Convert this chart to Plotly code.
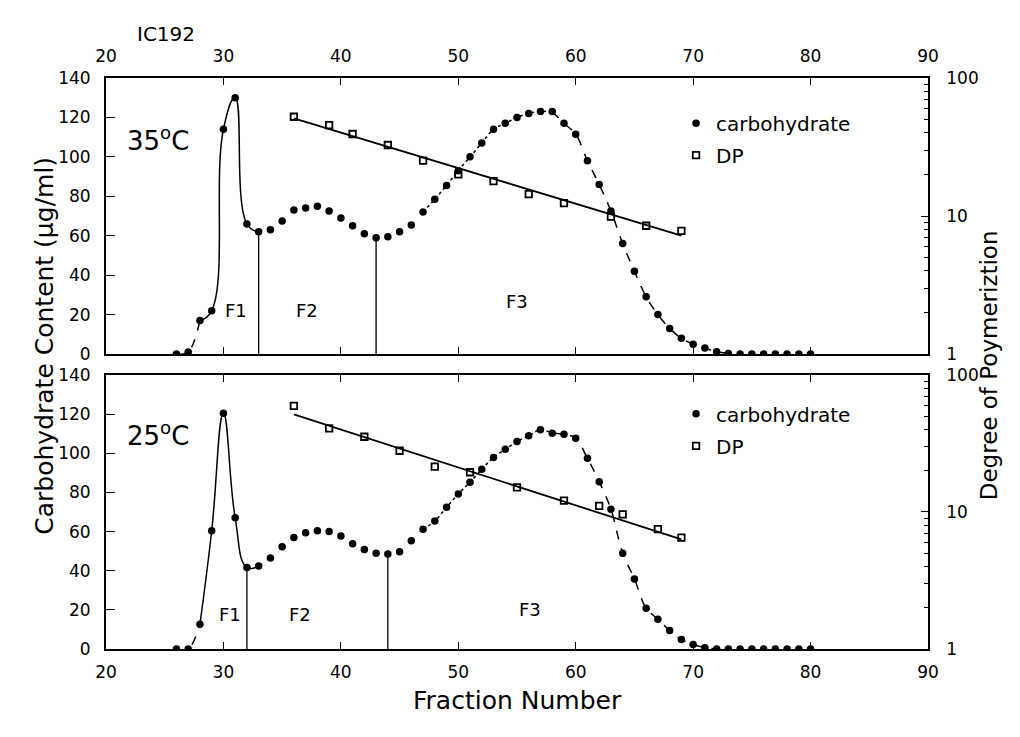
import plotly.graph_objects as go

# ---------------- data ----------------
fraction = list(range(26, 81))

carb_35 = [0, 1, 17, 22, 114, 130, 66, 62, 63, 67.5, 73, 74, 75, 72.5, 69, 65, 61, 59,
           59.5, 62, 65.5, 72, 78.5, 85.5, 93, 100, 107, 114, 117, 120, 122, 123, 123,
           117, 111.5, 98, 86, 72.5, 56, 42, 29, 20, 13, 8, 5, 3, 1.2, 0.3,
           0, 0, 0, 0, 0, 0, 0]
carb_25 = [0, 0, 12.6, 60.4, 120.4, 67, 41.7, 42.4, 46.5, 52.3, 57, 59.4, 60.4, 60, 57.7,
           53.8, 50.8, 48.9, 48.5, 49.7, 55.3, 61.2, 65.4, 72.4, 79.2, 85.2, 91.8, 97.9,
           102, 106, 109, 112, 110.2, 109.7, 107.7, 97.4, 85.5, 71.4, 48.9, 35.8, 20.8,
           15.2, 9.4, 4.9, 2.3, 0.7, 0, 0, 0, 0, 0, 0, 0, 0, 0]

dp_x_35 = [36, 39, 41, 44, 47, 50, 53, 56, 59, 63, 66, 69]
dp_y_35 = [52.4, 45.6, 39.3, 32.7, 25.2, 20, 17.9, 14.4, 12.4, 9.9, 8.5, 7.8]
dp_x_25 = [36, 39, 42, 45, 48, 51, 55, 59, 62, 64, 67, 69]
dp_y_25 = [59.4, 40.8, 35.4, 28, 21.4, 19.5, 15.1, 12.1, 11.1, 9.6, 7.5, 6.5]

fit_x_35 = [36, 69]
fit_y_35 = [51, 7.2]
fit_x_25 = [36, 69]
fit_y_25 = [51.6, 6.3]

bounds_35 = [33, 43]
bounds_25 = [32, 44]

x_ticks = [20, 30, 40, 50, 60, 70, 80, 90]
y_ticks = [0, 20, 40, 60, 80, 100, 120, 140]
log_ticks = [1, 10, 100]
log_minor = [2, 3, 4, 5, 6, 7, 8, 9, 20, 30, 40, 50, 60, 70, 80, 90]

FONT = "DejaVu Sans"
BLACK = "black"

fig = go.Figure()


def seg(xs, ys, lo, hi):
    px, py = [], []
    for a, b in zip(xs, ys):
        if lo <= a <= hi:
            px.append(a)
            py.append(b)
    return px, py


def add_panel(carb, dpx, dpy, fitx, fity, bounds, xa, ya, ya2, legend):
    styles = [((26, 28), "dash", 1.0), ((28, 33), "solid", 1.3),
              ((47, 58), "dot", 1.0), ((58, 73), "dash", 1.0)]
    for (lo, hi), dash, sm in styles:
        sx, sy = seg(fraction, carb, lo, hi)
        fig.add_trace(go.Scatter(x=sx, y=sy, mode="lines", xaxis=xa, yaxis=ya,
                                 line=dict(color=BLACK, width=1.5, dash=dash, shape="spline",
                                           smoothing=sm),
                                 showlegend=False, hoverinfo="skip"))
    fig.add_trace(go.Scatter(x=fraction, y=carb, mode="markers", xaxis=xa, yaxis=ya,
                             marker=dict(symbol="circle", size=7.5, color=BLACK),
                             showlegend=False, name="carbohydrate"))
    for b in bounds:
        h = carb[fraction.index(b)]
        fig.add_trace(go.Scatter(x=[b, b], y=[0, h], mode="lines", xaxis=xa, yaxis=ya,
                                 line=dict(color=BLACK, width=1.3), showlegend=False,
                                 hoverinfo="skip"))
    fig.add_trace(go.Scatter(x=fitx, y=fity, mode="lines", xaxis=xa, yaxis=ya2,
                             line=dict(color=BLACK, width=1.8), showlegend=False,
                             hoverinfo="skip"))
    fig.add_trace(go.Scatter(x=dpx, y=dpy, mode="markers", xaxis=xa, yaxis=ya2,
                             marker=dict(symbol="square-open", size=6.5, color=BLACK,
                                         line=dict(width=1.8, color=BLACK)),
                             showlegend=False, name="DP"))
    fig.add_trace(go.Scatter(x=[None], y=[None], mode="markers", xaxis=xa, yaxis=ya,
                             marker=dict(symbol="circle", size=7.5, color=BLACK),
                             name="carbohydrate", legend=legend, legendgroup=legend + "a"))
    fig.add_trace(go.Scatter(x=[None], y=[None], mode="markers", xaxis=xa, yaxis=ya,
                             marker=dict(symbol="square-open", size=6.5, color=BLACK,
                                         line=dict(width=1.8, color=BLACK)),
                             name="DP", legend=legend, legendgroup=legend + "b"))


add_panel(carb_35, dp_x_35, dp_y_35, fit_x_35, fit_y_35, bounds_35, "x", "y", "y2", "legend")
add_panel(carb_25, dp_x_25, dp_y_25, fit_x_25, fit_y_25, bounds_25, "x2", "y3", "y4", "legend2")

tickfont = dict(family=FONT, size=17, color=BLACK)


def xaxis(side, anchor):
    return dict(range=[20, 90], tickvals=x_ticks, ticks="inside", ticklen=7, tickwidth=1.3,
                tickcolor=BLACK, showline=True, linecolor=BLACK, linewidth=1.8,
                mirror="ticks", side=side, anchor=anchor, showgrid=False, zeroline=False,
                tickfont=tickfont, ticklabelstandoff=7)


def yaxis(domain):
    return dict(range=[0, 140], tickvals=y_ticks, ticks="inside", ticklen=9, tickwidth=1.3,
                tickcolor=BLACK, showline=True, linecolor=BLACK, linewidth=1.8,
                domain=domain, showgrid=False, zeroline=False, tickfont=tickfont,
                ticklabelstandoff=10)


def logaxis(over):
    return dict(type="log", range=[0, 2], tickvals=log_ticks, ticktext=["1", "10", "100"],
                overlaying=over, side="right", anchor="x" if over == "y" else "x2",
                ticks="inside", ticklen=7, tickwidth=1.3, tickcolor=BLACK,
                showline=True, linecolor=BLACK, linewidth=1.8, showgrid=False,
                zeroline=False, tickfont=tickfont, ticklabelstandoff=13,
                minor=dict(tickvals=log_minor, ticks="inside", ticklen=4, tickcolor=BLACK,
                           tickwidth=1.2, showgrid=False))


top_dom = [0.5166, 1.0]
bot_dom = [0.0, 0.4799]

ann_font = dict(family=FONT, size=18, color=BLACK)
temp_font = dict(family=FONT, size=26, color=BLACK)
title_font = dict(family=FONT, size=25, color=BLACK)

annots = [
    dict(x=24.4, y=109, xref="x", yref="y", text="35<sup>o</sup>C", showarrow=False,
         font=temp_font),
    dict(x=24.4, y=110, xref="x2", yref="y3", text="25<sup>o</sup>C", showarrow=False,
         font=temp_font),
    dict(x=31.1, y=22, xref="x", yref="y", text="F1", showarrow=False, font=ann_font),
    dict(x=37.1, y=22, xref="x", yref="y", text="F2", showarrow=False, font=ann_font),
    dict(x=55.0, y=26.5, xref="x", yref="y", text="F3", showarrow=False, font=ann_font),
    dict(x=30.6, y=17.4, xref="x2", yref="y3", text="F1", showarrow=False, font=ann_font),
    dict(x=36.5, y=17.4, xref="x2", yref="y3", text="F2", showarrow=False, font=ann_font),
    dict(x=56.1, y=20, xref="x2", yref="y3", text="F3", showarrow=False, font=ann_font),
    dict(x=0.0353, y=1.1016, xref="paper", yref="paper", text="IC192", showarrow=False,
         font=dict(family=FONT, size=20, color=BLACK)),
    dict(x=-0.0949, y=0.532, xref="paper", yref="paper", text="Carbohydrate Content (μg/ml)",
         textangle=-90, showarrow=False, font=title_font),
    dict(x=1.0925, y=0.497, xref="paper", yref="paper", text="Degree of Poymeriztion",
         textangle=-90, showarrow=False, font=dict(family=FONT, size=23, color=BLACK)),
    dict(x=0.5, y=-0.119, xref="paper", yref="paper", text="Fraction Number",
         showarrow=False, font=title_font),
]

legfont = dict(family=FONT, size=20, color=BLACK)

fig.update_layout(
    width=1020, height=737,
    margin=dict(l=106, r=92, t=78, b=88),
    paper_bgcolor="white", plot_bgcolor="white",
    xaxis=xaxis("top", "y"),
    xaxis2=xaxis("bottom", "y3"),
    yaxis=yaxis(top_dom),
    yaxis2=logaxis("y"),
    yaxis3=yaxis(bot_dom),
    yaxis4=logaxis("y3"),
    legend=dict(x=0.6935, y=0.955, xanchor="left", yanchor="top", font=legfont,
                bgcolor="rgba(0,0,0,0)", tracegroupgap=3),
    legend2=dict(x=0.6935, y=0.446, xanchor="left", yanchor="top", font=legfont,
                 bgcolor="rgba(0,0,0,0)", tracegroupgap=3),
    annotations=annots,
    showlegend=True,
)

fig.write_html("out.html")
